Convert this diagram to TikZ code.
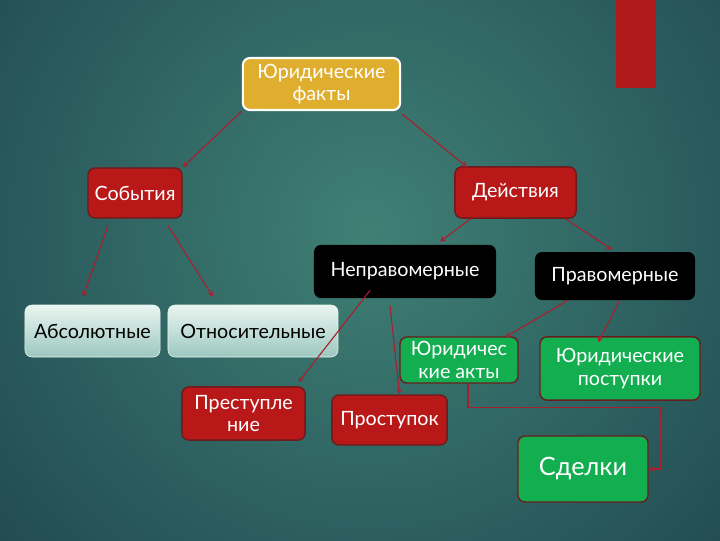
\documentclass[tikz,border=0pt]{standalone}
\usepackage{fontspec}
\setmainfont{Lato}
\usetikzlibrary{calc}
\definecolor{bgdark}{HTML}{163644}
\definecolor{bglight}{HTML}{3F8075}
\definecolor{barred}{HTML}{B01A1A}
\definecolor{factyellow}{HTML}{E0AE2E}
\definecolor{boxred}{HTML}{B81818}
\definecolor{rimred}{HTML}{6A1C1E}
\definecolor{boxgreen}{HTML}{12AE50}
\definecolor{linkred}{HTML}{A8202E}
\definecolor{lighttop}{HTML}{EAF5F1}
\definecolor{lightbot}{HTML}{9CC8BF}

\begin{document}
\begin{tikzpicture}[x=0.025cm,y=-0.025cm,>=stealth,
  box/.style={rounded corners=5pt, align=center, font=\fontsize{14}{16}\selectfont, inner sep=2pt},
  yellowbox/.style={box, fill=factyellow, draw=white, line width=1.5pt, text=white},
  redbox/.style={box, fill=boxred, draw=rimred, line width=1pt, text=white},
  blackbox/.style={box, fill=black, text=white},
  lightbox/.style={box, top color=lighttop, bottom color=lightbot, draw=lighttop, text=black},
  greenbox/.style={box, fill=boxgreen, draw=rimred, line width=1pt, text=white},
  link/.style={->, draw=linkred, line width=0.8pt}]
\useasboundingbox (0,0) rectangle (720,540);
% background
\fill[bgdark] (0,0) rectangle (720,540);
\begin{scope}
  \clip (0,0) rectangle (720,540);
  \shade[inner color=bglight, outer color=bgdark] (370,230) circle[radius=17cm];
\end{scope}
\fill[barred] (616,0) rectangle (656,88);

% boxes
\node[yellowbox, minimum width=3.93cm, minimum height=1.3cm] (fact) at (321.5,84) {Юридические\\факты};
\node[redbox, minimum width=2.35cm, minimum height=1.25cm] (sob) at (135,193) {События};
\node[redbox, minimum width=3.03cm, minimum height=1.28cm] (dei) at (515.5,192.5) {Действия};
\node[blackbox, minimum width=4.55cm, minimum height=1.33cm] (nepr) at (405,271.5) {Неправомерные};
\node[blackbox, minimum width=4.0cm, minimum height=1.2cm] (prav) at (615,276) {Правомерные};
\node[lightbox, minimum width=3.38cm, minimum height=1.3cm] (abs) at (92.5,331) {Абсолютные};
\node[lightbox, minimum width=4.25cm, minimum height=1.3cm] (otn) at (253,331) {Относительные};
\node[greenbox, minimum width=2.95cm, minimum height=1.15cm] (akty) at (459,360) {Юридичес\\кие акты};
\node[greenbox, minimum width=4.0cm, minimum height=1.58cm] (post) at (620,368.5) {Юридические\\поступки};
\node[redbox, minimum width=3.08cm, minimum height=1.33cm] (prest) at (243.5,413.5) {Преступле\\ние};
\node[redbox, minimum width=2.88cm, minimum height=1.25cm] (prost) at (389.5,420) {Проступок};
\node[greenbox, minimum width=3.25cm, minimum height=1.65cm, font=\fontsize{18}{20}\selectfont] (sdel) at (583,469) {Сделки};

% connectors
\draw[link] (fact.south west) -- (sob.north east);
\draw[link] ($(fact.south east)+(1,3)$) -- ($(dei.north west)+(13,1)$);
\draw[link] ($(sob.south)+(-27,7)$) -- ($(abs.north)+(-9.5,-8)$);
\draw[link] ($(sob.south)+(33,7)$) -- ($(otn.north)+(-40,-8)$);
\draw[link] ($(dei.south)+(-45,0)$) -- ($(nepr.north)+(35,-3)$);
\draw[link] ($(dei.south)+(50,0)$) -- ($(prav.north)+(-3,-2)$);
\draw[link] ($(nepr.south)+(-35,-8)$) -- ($(prest.north)+(55,-4)$);
\draw[link] ($(nepr.south)+(-15,7)$) -- ($(prost.north)+(10,0)$);
\draw[link] ($(prav.south)+(-47,0)$) -- ($(akty.north)+(46,1)$);
\draw[link] ($(prav.south)+(5,0)$) -- ($(post.north)+(-22,6)$);
\draw[link] ($(akty.south)+(9,0)$) |- ++(193,24) |- (sdel.east);
\end{tikzpicture}
\end{document}
